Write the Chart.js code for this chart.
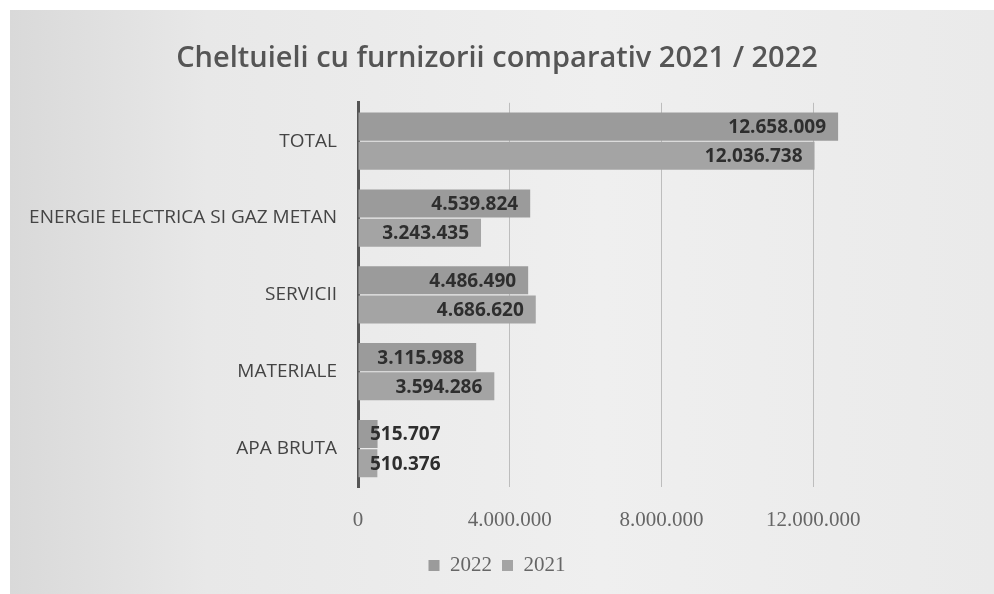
<!DOCTYPE html>
<html>
<head>
<meta charset="utf-8">
<script src="https://cdn.jsdelivr.net/npm/chart.js@4.4.1/dist/chart.umd.min.js"></script>
<style>
  html, body { margin: 0; padding: 0; background: #ffffff; }
  #wrap { position: relative; width: 994px; height: 594px; }
</style>
</head>
<body>
<div id="wrap"><canvas id="chart"></canvas></div>
<script>
// data
const categories = ['TOTAL', 'ENERGIE ELECTRICA SI GAZ METAN', 'SERVICII', 'MATERIALE', 'APA BRUTA'];
const values2022 = [12658009, 4539824, 4486490, 3115988, 515707];
const values2021 = [12036738, 3243435, 4686620, 3594286, 510376];
const seriesNames = ['2022', '2021'];
const tickValues = [0, 4000000, 8000000, 12000000];

const fmt = v => v.toString().replace(/\B(?=(\d{3})+(?!\d))/g, '.');

// paper-like background of the scanned picture
const scanBackground = {
    id: 'scanBackground',
    beforeDraw(chart) {
        const c = chart.ctx;
        c.save();
        c.fillStyle = '#ffffff';
        c.fillRect(0, 0, chart.width, chart.height);
        const g = c.createLinearGradient(10, 0, chart.width, 0);
        g.addColorStop(0, '#d9d9d9');
        g.addColorStop(0.2, '#e8e8e8');
        g.addColorStop(0.6, '#efefef');
        g.addColorStop(1, '#eaeaea');
        c.fillStyle = g;
        c.fillRect(10, 10, chart.width - 10, chart.height - 10);
        c.restore();
    }
};

// value labels at the inside end of each bar
const barLabels = {
    id: 'barLabels',
    afterDatasetsDraw(chart) {
        const c = chart.ctx;
        const base = chart.scales.x.getPixelForValue(0);
        c.save();
        c.font = 'bold 19px "Open Sans"';
        c.fillStyle = '#2e2e2e';
        c.textAlign = 'right';
        c.textBaseline = 'middle';
        chart.data.datasets.forEach((ds, i) => {
            chart.getDatasetMeta(i).data.forEach((bar, j) => {
                const txt = fmt(ds.data[j]);
                const w = c.measureText(txt).width;
                const x = Math.max(bar.x - 12, base + 12 + w);
                c.fillText(txt, x, bar.y + 1);
            });
        });
        c.restore();
    }
};

const ctx = document.getElementById('chart');
new Chart(ctx, {
    type: 'bar',
    data: {
        labels: categories,
        datasets: [
            { label: seriesNames[0], data: values2022, backgroundColor: '#9b9b9b' },
            { label: seriesNames[1], data: values2021, backgroundColor: '#a4a4a4' }
        ]
    },
    options: {
        indexAxis: 'y',
        responsive: true,
        maintainAspectRatio: false,
        animation: false,
        categoryPercentage: 0.76,
        barPercentage: 0.96,
        layout: {
            padding: { left: 0, right: 0, top: 0, bottom: 8 }
        },
        scales: {
            x: {
                min: 0,
                max: 14000000,
                afterBuildTicks(scale) {
                    scale.ticks = tickValues.map(v => ({ value: v }));
                },
                afterFit(scale) {
                    scale.height = 58;
                },
                grid: {
                    color: '#bdbdbd',
                    lineWidth: 1,
                    drawTicks: false
                },
                border: { display: false },
                ticks: {
                    padding: 21,
                    color: '#666666',
                    font: { family: '"Liberation Serif"', size: 21 },
                    callback: v => fmt(v)
                }
            },
            y: {
                afterFit(scale) {
                    scale.width = 358;
                },
                grid: { display: false, drawTicks: false },
                border: { display: true, color: '#555555', width: 3 },
                ticks: {
                    padding: 21,
                    color: '#444444',
                    font: { family: '"Open Sans"', size: 19 }
                }
            },
            // empty space right of the plot, so title and legend stay centred on the page
            yRight: {
                type: 'linear',
                axis: 'y',
                position: 'right',
                afterFit(scale) {
                    scale.width = 105;
                },
                grid: { display: false, drawTicks: false },
                border: { display: false },
                ticks: { display: false }
            }
        },
        plugins: {
            title: {
                display: true,
                text: 'Cheltuieli cu furnizorii comparativ 2021 / 2022',
                color: '#555555',
                font: { family: '"Open Sans"', size: 29, weight: '600' },
                padding: { top: 41, bottom: 27 }
            },
            legend: {
                position: 'bottom',
                labels: {
                    color: '#666666',
                    font: { family: '"Liberation Serif"', size: 21 },
                    boxWidth: 11,
                    boxHeight: 11,
                    padding: 10
                }
            },
            tooltip: { enabled: false }
        }
    },
    plugins: [scanBackground, barLabels]
});
</script>
</body>
</html>
